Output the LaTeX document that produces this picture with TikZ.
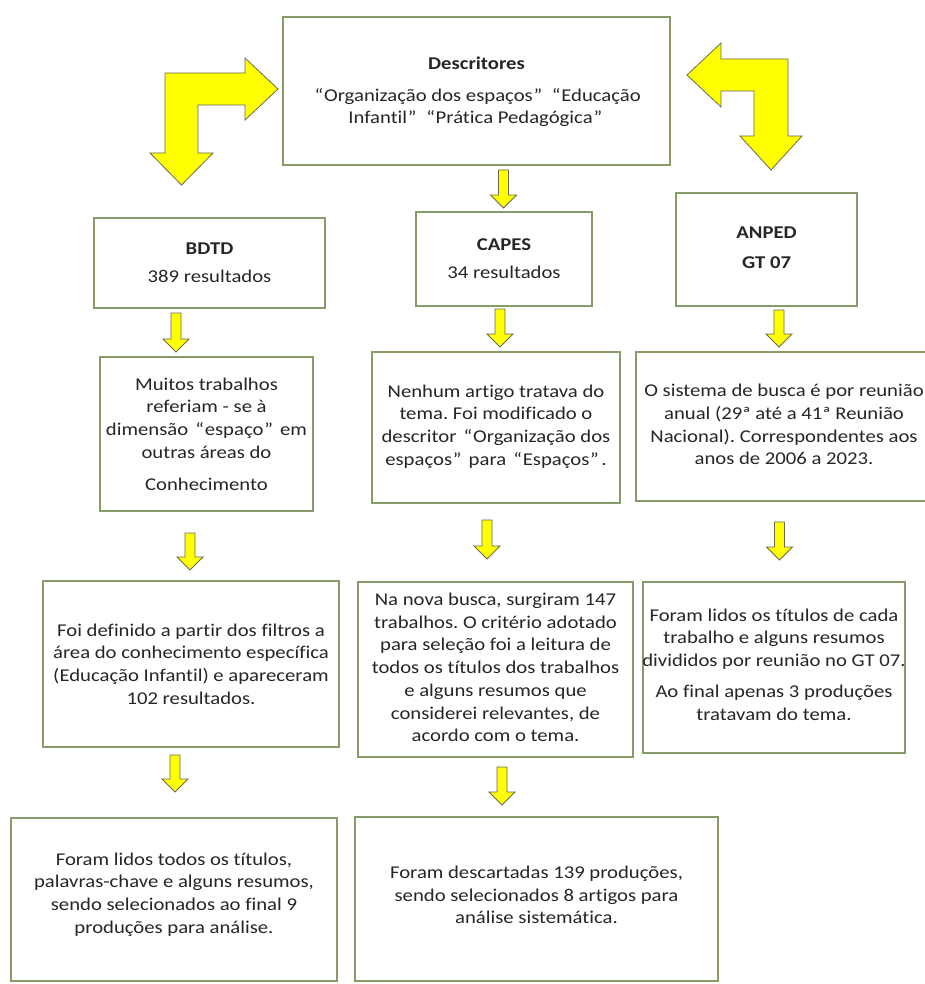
\documentclass[tikz,border=0pt]{standalone}
\usepackage{fontspec}
\setmainfont{Carlito}[FakeStretch=1.15, Ligatures=NoCommon]
\usetikzlibrary{calc}
\definecolor{boxline}{RGB}{135,155,105}
\definecolor{arrline}{RGB}{105,105,85}
\definecolor{txtc}{RGB}{38,38,38}
\definecolor{yel}{RGB}{255,255,0}
\tikzset{
  box/.style={draw=boxline, line width=1.1pt, fill=white, inner sep=0pt},
  txt/.style={align=center, text=txtc, font=\fontsize{18}{22.7}\selectfont, inner sep=0pt},
  yarrow/.style={fill=yel, draw=arrline, line width=0.8pt, line join=miter},
}
\newcommand\oq{\kern2.5pt“\kern0.8pt}
\newcommand\cq{\kern0.8pt”\kern2.5pt}
\newcommand\dnarrow[2]{\draw[yarrow] let \p1=(#1),\p2=(#2) in
  (\x1-5pt,\y1) -- (\x1+5pt,\y1) -- (\x1+5pt,\y2+13pt) -- (\x1+13pt,\y2+13pt)
  -- (\x1,\y2) -- (\x1-13pt,\y2+13pt) -- (\x1-5pt,\y2+13pt) -- cycle;}
\begin{document}
\frenchspacing
\begin{tikzpicture}[x=1pt,y=-1pt]
\useasboundingbox (0,0) rectangle (925,984);
\clip (0,0) rectangle (925,984);
\fill[white] (0,0) rectangle (925,984);

% boxes
\node[box,minimum width=387pt,minimum height=148pt] (desc) at (476.5,91) {};
\node[box,minimum width=231pt,minimum height=90pt] (bdtd) at (209.5,263) {};
\node[box,minimum width=176pt,minimum height=94pt] (capes) at (504,259) {};
\node[box,minimum width=181pt,minimum height=113pt] (anped) at (766.5,249.5) {};
\node[box,minimum width=213pt,minimum height=154pt] (bdtd2) at (206.5,434) {};
\node[box,minimum width=248pt,minimum height=151pt] (capes2) at (496,427.5) {};
\node[box,minimum width=296pt,minimum height=149pt] (anped2) at (784,426.5) {};
\node[box,minimum width=296pt,minimum height=166pt] (bdtd3) at (191,664) {};
\node[box,minimum width=275pt,minimum height=175pt] (capes3) at (495.5,669.5) {};
\node[box,minimum width=262pt,minimum height=171pt] (anped3) at (774,667.5) {};
\node[box,minimum width=326pt,minimum height=163pt] (bdtd4) at (174,899.5) {};
\node[box,minimum width=363pt,minimum height=164pt] (capes4) at (536.5,899) {};

% texts
\node[txt] (desct) at ($(desc.center)+(0,1)$) {\textbf{Descritores}\\[9pt]\oq Organização dos espaços\cq{} \oq Educação\\Infantil\cq{} \oq Prática Pedagógica\cq};
\node[txt] (bdtdt) at (bdtd.center) {\textbf{BDTD}\\[5pt]389 resultados};
\node[txt] (capest) at (capes.center) {\textbf{CAPES}\\[5pt]34 resultados};
\node[txt] (anpedt) at ($(anped.center)+(0,-2)$) {\textbf{ANPED}\\[7pt]\textbf{GT 07}};
\node[txt] (bdtd2t) at (bdtd2.center) {Muitos trabalhos\\referiam - se à\\dimensão \oq espaço\cq{} em\\outras áreas do\\[9pt]Conhecimento};
\node[txt] (capes2t) at ($(capes2.center)+(0,-1)$) {Nenhum artigo tratava do\\tema. Foi modificado o\\descritor \oq Organização dos\\espaços\cq{} para \oq Espaços\cq.};
\node[txt] (anped2t) at ($(anped2.center)+(0,-2)$) {O sistema de busca é por reunião\\anual (29ª até a 41ª Reunião\\Nacional). Correspondentes aos\\anos de 2006 a 2023.};
\node[txt] (bdtd3t) at (bdtd3.center) {Foi definido a partir dos filtros a\\área do conhecimento específica\\(Educação Infantil) e apareceram\\102 resultados.};
\node[txt] (capes3t) at ($(capes3.center)+(0,-2)$) {Na nova busca, surgiram 147\\trabalhos. O critério adotado\\para seleção foi a leitura de\\todos os títulos dos trabalhos\\e alguns resumos que\\considerei relevantes, de\\acordo com o tema.};
\node[txt] (anped3t) at ($(anped3.center)+(0,-3)$) {Foram lidos os títulos de cada\\trabalho e alguns resumos\\divididos por reunião no GT 07.\\[8pt]Ao final apenas 3 produções\\tratavam do tema.};
\node[txt] (bdtd4t) at ($(bdtd4.center)+(0,-5)$) {Foram lidos todos os títulos,\\palavras-chave e alguns resumos,\\sendo selecionados ao final 9\\produções para análise.};
\node[txt] (capes4t) at ($(capes4.center)+(0,-4)$) {Foram descartadas 139 produções,\\sendo selecionados 8 artigos para\\análise sistemática.};

% big bent arrows
\draw[yarrow] (165,73) -- (245,73) -- (245,58) -- (278,89) -- (245,120) -- (245,105)
  -- (198,105) -- (198,153) -- (213,153) -- (181.5,185) -- (150,153) -- (165,153) -- cycle;
\draw[yarrow] (788,59) -- (721,59) -- (721,43) -- (687,75) -- (721,107) -- (721,91)
  -- (754,91) -- (754,136) -- (740,136) -- (771,170) -- (802,136) -- (788,136) -- cycle;

% small arrow end points
\coordinate (a1s) at (503.5,170); \coordinate (a1e) at (503.5,208);
\coordinate (a2s) at (176,313);   \coordinate (a2e) at (176,352);
\coordinate (a3s) at (500,309);   \coordinate (a3e) at (500,347);
\coordinate (a4s) at (779,310);   \coordinate (a4e) at (779,347);
\coordinate (a5s) at (190,533);   \coordinate (a5e) at (190,570);
\coordinate (a6s) at (487,520);   \coordinate (a6e) at (487,559);
\coordinate (a7s) at (779.5,522); \coordinate (a7e) at (779.5,560);
\coordinate (a8s) at (175,755);   \coordinate (a8e) at (175,792);
\coordinate (a9s) at (502,767);   \coordinate (a9e) at (502,805);
\dnarrow{a1s}{a1e}
\dnarrow{a2s}{a2e}
\dnarrow{a3s}{a3e}
\dnarrow{a4s}{a4e}
\dnarrow{a5s}{a5e}
\dnarrow{a6s}{a6e}
\dnarrow{a7s}{a7e}
\dnarrow{a8s}{a8e}
\dnarrow{a9s}{a9e}
\end{tikzpicture}
\end{document}
